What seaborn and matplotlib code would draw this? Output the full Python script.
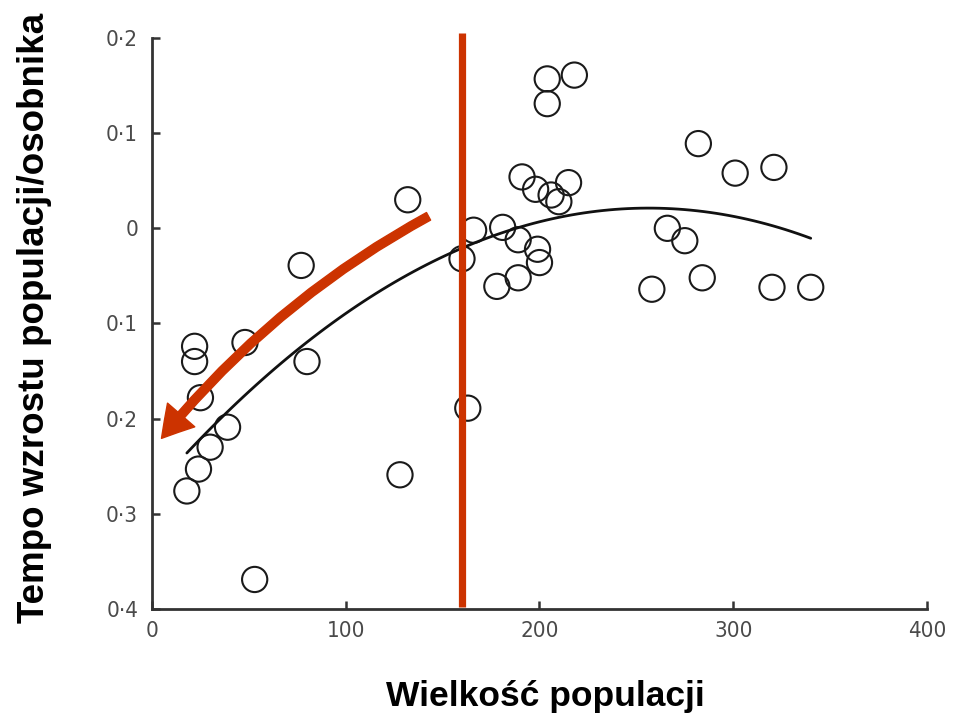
import numpy as np
import pandas as pd
import matplotlib
matplotlib.use("Agg")
import matplotlib.pyplot as plt
from matplotlib.patches import FancyArrowPatch
import seaborn as sns

# Population size (x) and per-capita growth rate (y)
population = [132, 77, 22, 22, 48, 80, 25, 39, 30, 24,
              18, 128, 53, 160, 163, 166,
              204, 218, 204, 282, 301, 321,
              191, 198, 206, 210, 215,
              181, 189, 199, 200, 189, 178,
              266, 275, 258, 284, 320, 340]
growth = [0.030, -0.039, -0.124, -0.140, -0.120, -0.140, -0.178, -0.209, -0.230, -0.253,
          -0.276, -0.259, -0.369, -0.032, -0.189, -0.002,
          0.157, 0.161, 0.131, 0.089, 0.058, 0.064,
          0.054, 0.041, 0.035, 0.028, 0.048,
          0.001, -0.012, -0.022, -0.036, -0.052, -0.061,
          0.000, -0.013, -0.064, -0.052, -0.062, -0.062]

x_ticks = [0, 100, 200, 300, 400]
x_tick_labels = ["0", "100", "200", "300", "400"]
y_ticks = [0.2, 0.1, 0.0, -0.1, -0.2, -0.3, -0.4]
y_tick_labels = ["0·2", "0·1", "0", "0·1", "0·2", "0·3", "0·4"]

threshold = 160
arrow_start = (144, 0.014)
arrow_end = (4, -0.223)

df = pd.DataFrame({"population": population, "growth": growth})

sns.set_theme(style="white")
plt.rcParams["font.family"] = ["Liberation Sans", "DejaVu Sans"]

fig = plt.figure(figsize=(9.65, 7.14), dpi=100)
ax = fig.add_axes([0.1575, 0.1471, 0.8031, 0.7997])

red = "#cc3300"

sns.scatterplot(data=df, x="population", y="growth", ax=ax, marker="o", s=330,
                facecolor="none", edgecolor="#1a1a1a", linewidth=1.5, zorder=3)
sns.regplot(data=df, x="population", y="growth", ax=ax, order=2, ci=None,
            scatter=False, truncate=True,
            line_kws=dict(color="#111111", lw=2.0, zorder=4))

ax.axvline(threshold, ymin=0.003, ymax=1.009, color=red, lw=5.2, zorder=5,
           clip_on=False, solid_capstyle="butt")

arrow = FancyArrowPatch(arrow_start, arrow_end, connectionstyle="arc3,rad=0.1",
                        arrowstyle="simple,head_length=1.1,head_width=1.3,tail_width=0.31",
                        mutation_scale=20, color=red, zorder=6)
ax.add_patch(arrow)

ax.set_xlim(0, 400)
ax.set_ylim(-0.4, 0.2)
ax.set_xticks(x_ticks)
ax.set_xticklabels(x_tick_labels)
ax.set_yticks(y_ticks)
ax.set_yticklabels(y_tick_labels)

for side in ["top", "right"]:
    ax.spines[side].set_visible(False)
for side in ["left", "bottom"]:
    ax.spines[side].set_color("#333333")
    ax.spines[side].set_linewidth(2.0)

ax.tick_params(axis="both", direction="in", length=6, width=1.8, color="#333333",
               labelsize=16, labelcolor="#4a4a4a", left=True, bottom=True)
ax.tick_params(axis="y", pad=10)
ax.tick_params(axis="x", pad=9)
for lab in ax.get_xticklabels() + ax.get_yticklabels():
    lab.set_family(["DejaVu Sans"])
    lab.set_stretch("condensed")

ax.set_xlabel("")
ax.set_ylabel("")
fig.text(0.565, 0.025, "Wielkość populacji", ha="center", va="center",
         fontsize=25.5, fontweight="bold", color="black")
fig.text(0.036, 0.555, "Tempo wzrostu populacji/osobnika", ha="center", va="center",
         rotation=90, fontsize=26.5, fontweight="bold", color="black")

fig.savefig("out.png", dpi=100)
